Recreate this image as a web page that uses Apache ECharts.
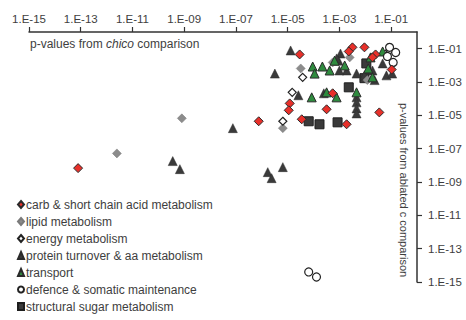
<!DOCTYPE html>
<html>
<head>
<meta charset="utf-8">
<script src="https://cdn.jsdelivr.net/npm/echarts@6/dist/echarts.min.js"></script>
<style>html,body{margin:0;padding:0;background:#fff}#c{width:466px;height:320px}</style>
</head>
<body>
<div id="c"></div>
<script>
// tick exponents shown on both axes (1.E-15 ... 1.E-01)
const tickExps = [-15, -13, -11, -9, -7, -5, -3, -1];
const tickLabels = ['1.E-15','1.E-13','1.E-11','1.E-09','1.E-07','1.E-05','1.E-03','1.E-01'];

const categories = ['carb & short chain acid metabolism','lipid metabolism','energy metabolism',
  'protein turnover & aa metabolism','transport','defence & somatic maintenance','structural sugar metabolism'];

// p-values: x = chico comparison, y = ablated c comparison
const carbX = [7.9e-14, 2.9e-5, 3.2e-3, 2.3e-3, 9.3e-3, 2.5e-2, 1.9e-2, 0.105, 3.5e-2, 1.9e-3, 3.2e-4, 1.2e-5, 1.1e-5, 7.6e-7, 3.5e-5, 5.5e-4];
const carbY = [6.8e-9, 4.5e-2, 0.12, 6.8e-2, 0.12, 4.5e-2, 3.0e-2, 5.6e-3, 1.5e-5, 2.9e-6, 2.3e-5, 5.2e-5, 2.0e-5, 4.4e-6, 5.8e-6, 2.1e-4];

const lipidX = [2.5e-12, 8.1e-10, 3.2e-5, 6.5e-6, 2.5e-3, 1.2e-2, 5.5e-4];
const lipidY = [5.2e-8, 6.6e-6, 6.5e-3, 1.7e-6, 3.0e-2, 1.3e-3, 1.5e-2];

const energyX = [3.8e-5, 1.5e-5, 6.5e-6, 8.7e-2];
const energyY = [1.9e-3, 2.4e-4, 4.4e-6, 7.8e-2];

const proteinX = [7.6e-8, 3.6e-10, 6.8e-10, 1.7e-6, 2.4e-6, 6.5e-6, 1.3e-5, 3.2e-6, 1.1e-3, 9.3e-4, 2.6e-5, 2.5e-4, 4.6e-3, 4.6e-3, 4.6e-3, 4.6e-3, 1.9e-3, 4.6e-3, 9.3e-3, 6.6e-2, 0.11, 1.0e-3, 7.8e-4, 1.9e-2, 4.7e-2, 2.3e-2];
const proteinY = [1.7e-6, 1.8e-8, 5.9e-9, 3.9e-9, 1.7e-9, 7.8e-9, 7.8e-2, 3.2e-3, 5.1e-2, 1.9e-2, 1.6e-4, 2.1e-4, 1.2e-4, 6.0e-5, 2.6e-5, 1.3e-5, 4.9e-3, 3.2e-3, 2.5e-3, 2.5e-3, 3.2e-3, 4.9e-3, 2.6e-2, 4.9e-3, 1.3e-2, 1.3e-3];

const transportX = [9.3e-5, 1.1e-4, 2.2e-4, 4.2e-4, 6.5e-4, 4.6e-3, 8.5e-5, 7.8e-4, 1.9e-2, 3.2e-4, 1.6e-2, 1.6e-3, 4.7e-2, 1.3e-2];
const transportY = [8.5e-3, 3.2e-3, 8.5e-3, 4.9e-3, 1.9e-2, 2.4e-4, 1.2e-4, 1.2e-4, 1.9e-3, 2.4e-4, 3.0e-2, 9.8e-3, 6.8e-2, 6.5e-3];

const defenceX = [6.5e-5, 1.3e-4, 8.7e-2, 0.15, 7.2e-2, 0.12];
const defenceY = [4.0e-15, 2.0e-15, 0.12, 5.9e-2, 3.4e-2, 1.5e-2];

const structX = [6.5e-5, 1.7e-4, 8.5e-4, 2.3e-3, 1.1e-2, 9.3e-3];
const structY = [4.4e-6, 2.9e-6, 3.8e-6, 4.8e-4, 1.3e-2, 1.7e-3];

function pairs(xs, ys) { return xs.map((x, i) => [x, ys[i]]); }

const txt = '#3e3e3e';
const axisCol = '#333';
const font = 'Liberation Sans, Arial, sans-serif';

const seriesDefs = [
  {name: categories[6], x: structX, y: structY, symbol: 'rect', size: 9, color: '#3a3a3a', border: '#1e1e1e', bw: 1},
  {name: categories[3], x: proteinX, y: proteinY, symbol: 'triangle', size: 9, color: '#3a3a3a', border: '#2a2a2a', bw: 0.5},
  {name: categories[1], x: lipidX, y: lipidY, symbol: 'diamond', size: 9, color: '#8c8c8c', border: '#7a7a7a', bw: 0.5},
  {name: categories[4], x: transportX, y: transportY, symbol: 'triangle', size: 9, color: '#2e8b3e', border: '#2a2a2a', bw: 1},
  {name: categories[2], x: energyX, y: energyY, symbol: 'diamond', size: 8, color: '#ffffff', border: '#222', bw: 1.2},
  {name: categories[5], x: defenceX, y: defenceY, symbol: 'circle', size: 8, color: '#ffffff', border: '#222', bw: 1.2},
  {name: categories[0], x: carbX, y: carbY, symbol: 'diamond', size: 9, color: '#e8302a', border: '#2a2a2a', bw: 1}
];

const chart = echarts.init(document.getElementById('c'), null, {renderer: 'svg'});
chart.setOption({
  animation: false,
  backgroundColor: '#fff',
  grid: {left: 29, right: 49, top: 32, bottom: 38, containLabel: false, outerBoundsMode: 'none'},
  xAxis: [
    {type: 'log', logBase: 10, min: 1e-15, max: 1, show: false, position: 'top'},
    {type: 'value', min: -15, max: 0, position: 'top',
     axisLine: {show: true, onZero: false, lineStyle: {color: axisCol, width: 1.5}},
     axisTick: {show: true, length: 5, customValues: tickExps, lineStyle: {color: axisCol, width: 1.2}},
     axisLabel: {show: true, customValues: tickExps, margin: 7, color: txt, fontSize: 11.5, fontFamily: font,
       formatter: v => tickLabels[tickExps.indexOf(v)]},
     splitLine: {show: false}}
  ],
  yAxis: [
    {type: 'log', logBase: 10, min: 1e-15, max: 1, show: false, position: 'right'},
    {type: 'value', min: -15, max: 0, position: 'right',
     axisLine: {show: true, onZero: false, lineStyle: {color: axisCol, width: 1.5}},
     axisTick: {show: true, length: 5, customValues: tickExps, lineStyle: {color: axisCol, width: 1.2}},
     axisLabel: {show: true, customValues: tickExps, margin: 11, color: txt, fontSize: 11.5, fontFamily: font,
       formatter: v => tickLabels[tickExps.indexOf(v)]},
     splitLine: {show: false}}
  ],
  legend: {
    orient: 'vertical', left: 17, top: 198, height: 125, padding: 0, itemGap: 4, itemWidth: 6, itemHeight: 7,
    data: categories,
    textStyle: {color: txt, fontSize: 12, lineHeight: 13, fontFamily: font, padding: [0, 0, 0, -3]},
    selectedMode: false
  },
  graphic: [
    {type: 'text', left: 30, top: 38, style: {
      text: '{a|p-values from }{i|chico}{a| comparison}',
      rich: {a: {fontSize: 12, fill: txt, fontFamily: font},
             i: {fontSize: 12, fill: txt, fontStyle: 'italic', fontFamily: font}}
    }},
    {type: 'text', x: 404, y: 190, rotation: -Math.PI / 2, style: {
      text: 'p-values from ablated c comparison', fill: txt, fontSize: 11,
      fontFamily: font, align: 'center', verticalAlign: 'middle'
    }}
  ],
  series: seriesDefs.map(s => ({
    name: s.name, type: 'scatter', xAxisIndex: 0, yAxisIndex: 0,
    symbol: s.symbol, symbolSize: s.size,
    itemStyle: {color: s.color, borderColor: s.border, borderWidth: s.bw, opacity: 1},
    data: pairs(s.x, s.y)
  }))
});
</script>
</body>
</html>
